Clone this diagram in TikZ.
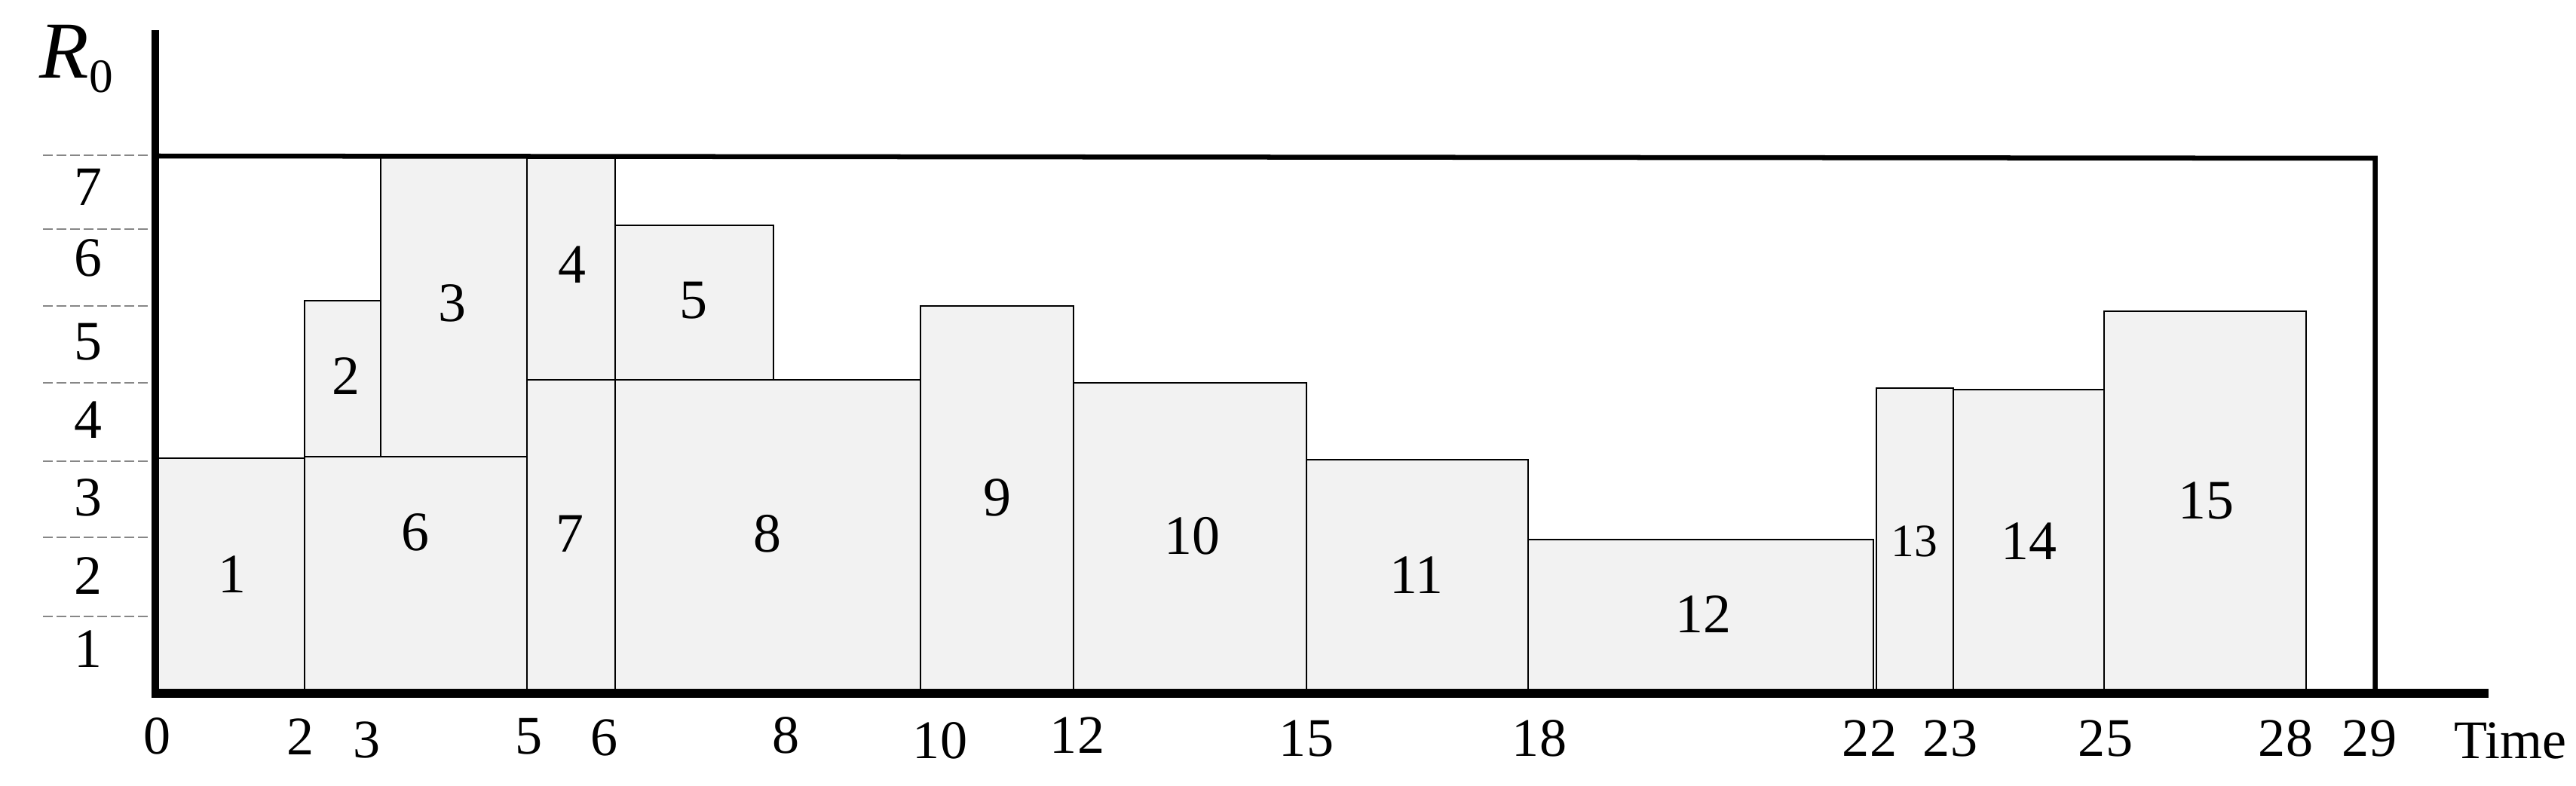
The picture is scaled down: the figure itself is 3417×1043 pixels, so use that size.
\documentclass[tikz,border=0pt]{standalone}
\usepackage{fontspec}
\setmainfont{Liberation Serif}
\definecolor{boxfill}{RGB}{242,242,242}
\definecolor{dashgray}{RGB}{135,135,135}
\begin{document}
\begin{tikzpicture}[x=0.01cm,y=-0.01cm,
  task/.style={draw=black, fill=boxfill, line width=0.025cm},
  tasklbl/.style={inner sep=0pt, font=\fontsize{21}{21}\selectfont},
  smalllbl/.style={inner sep=0pt, font=\fontsize{17.5}{17.5}\selectfont},
  ylbl/.style={inner sep=0pt, font=\fontsize{21}{21}\selectfont},
  xlbl/.style={inner sep=0pt, font=\fontsize{20.5}{20.5}\selectfont},
  gridline/.style={draw=dashgray, line width=0.027cm, dash pattern=on 0.13cm off 0.05cm},
  axis/.style={draw=black, line width=0.1cm},
  bound/.style={draw=black, line width=0.065cm}]
\useasboundingbox (0,0) rectangle (3417,1043);
% dashed level lines
\foreach \yy in {206,304,406,508,612,713,818}
  \draw[gridline] (57,\yy) -- (202,\yy);
% tasks
\draw[task] (206,608) rectangle (404,921);
\draw[task] (404,606) rectangle (699,921);
\draw[task] (404,399) rectangle (505,606);
\draw[task] (505,208) rectangle (699,606);
\draw[task] (699,208) rectangle (816,504);
\draw[task] (699,504) rectangle (816,921);
\draw[task] (816,299) rectangle (1026,504);
\draw[task] (816,504) rectangle (1221,921);
\draw[task] (1221,406) rectangle (1424,921);
\draw[task] (1424,508) rectangle (1733,921);
\draw[task] (1733,610) rectangle (2027,921);
\draw[task] (2027,716) rectangle (2485,921);
\draw[task] (2489,515) rectangle (2591,921);
\draw[task] (2591,517) rectangle (2791,921);
\draw[task] (2791,413) rectangle (3059,921);
% task labels
\node[tasklbl] (l1) at (308,762) {1};
\node[tasklbl] (l2) at (459,499) {2};
\node[tasklbl] (l3) at (600,402) {3};
\node[tasklbl] (l4) at (759,351) {4};
\node[tasklbl] (l5) at (920,399) {5};
\node[tasklbl] (l6) at (551,706) {6};
\node[tasklbl] (l7) at (756,708) {7};
\node[tasklbl] (l8) at (1018,708) {8};
\node[tasklbl] (l9) at (1323,660) {9};
\node[tasklbl] (l10) at (1581,711) {10};
\node[tasklbl] (l11) at (1879,763) {11};
\node[tasklbl] (l12) at (2259,815) {12};
\node[smalllbl] (l13) at (2539,718) {13};
\node[tasklbl] (l14) at (2691,718) {14};
\node[tasklbl] (l15) at (2926,664) {15};
% capacity boundary
\coordinate (bl) at (206,207);
\coordinate (br) at (3150.5,210);
\coordinate (bb) at (3150.5,921);
\draw[bound] (bl) -- (br) -- (bb);
% axes
\coordinate (yo) at (206,926);
\coordinate (ytop) at (206,40);
\coordinate (xo) at (201,920);
\coordinate (xend) at (3301,920);
\draw[axis, line width=0.1cm] (yo) -- (ytop);
\draw[axis, line width=0.11cm] (xo) -- (xend);
% y labels
\node[ylbl] (y7) at (117,248) {7};
\node[ylbl] (y6) at (117,342) {6};
\node[ylbl] (y5) at (117,454) {5};
\node[ylbl] (y4) at (117,557) {4};
\node[ylbl] (y3) at (117,660) {3};
\node[ylbl] (y2) at (117,764) {2};
\node[ylbl] (y1) at (117,861) {1};
% R0
\node[inner sep=0pt, anchor=base west] (r0) at (52,104) {\fontsize{30.5}{30.5}\selectfont\itshape R\fontsize{18}{18}\selectfont\upshape\raisebox{-0.3em}{0}};
% x labels
\node[xlbl] (x0) at (209,977) {0};
\node[xlbl] (x2) at (399,978) {2};
\node[xlbl] (x3) at (487,982) {3};
\node[xlbl] (x5) at (702,977) {5};
\node[xlbl] (x6) at (802,979) {6};
\node[xlbl] (x8) at (1043,976) {8};
\node[xlbl] (x10) at (1247,983) {10};
\node[xlbl] (x12) at (1429,976) {12};
\node[xlbl] (x15) at (1733,980) {15};
\node[xlbl] (x18) at (2042,980) {18};
\node[xlbl] (x22) at (2480,980) {22};
\node[xlbl] (x23) at (2587,980) {23};
\node[xlbl] (x25) at (2793,980) {25};
\node[xlbl] (x28) at (3032,980) {28};
\node[xlbl] (x29) at (3143,980) {29};
\node[xlbl] (xt) at (3330,983) {Time};
\end{tikzpicture}
\end{document}
